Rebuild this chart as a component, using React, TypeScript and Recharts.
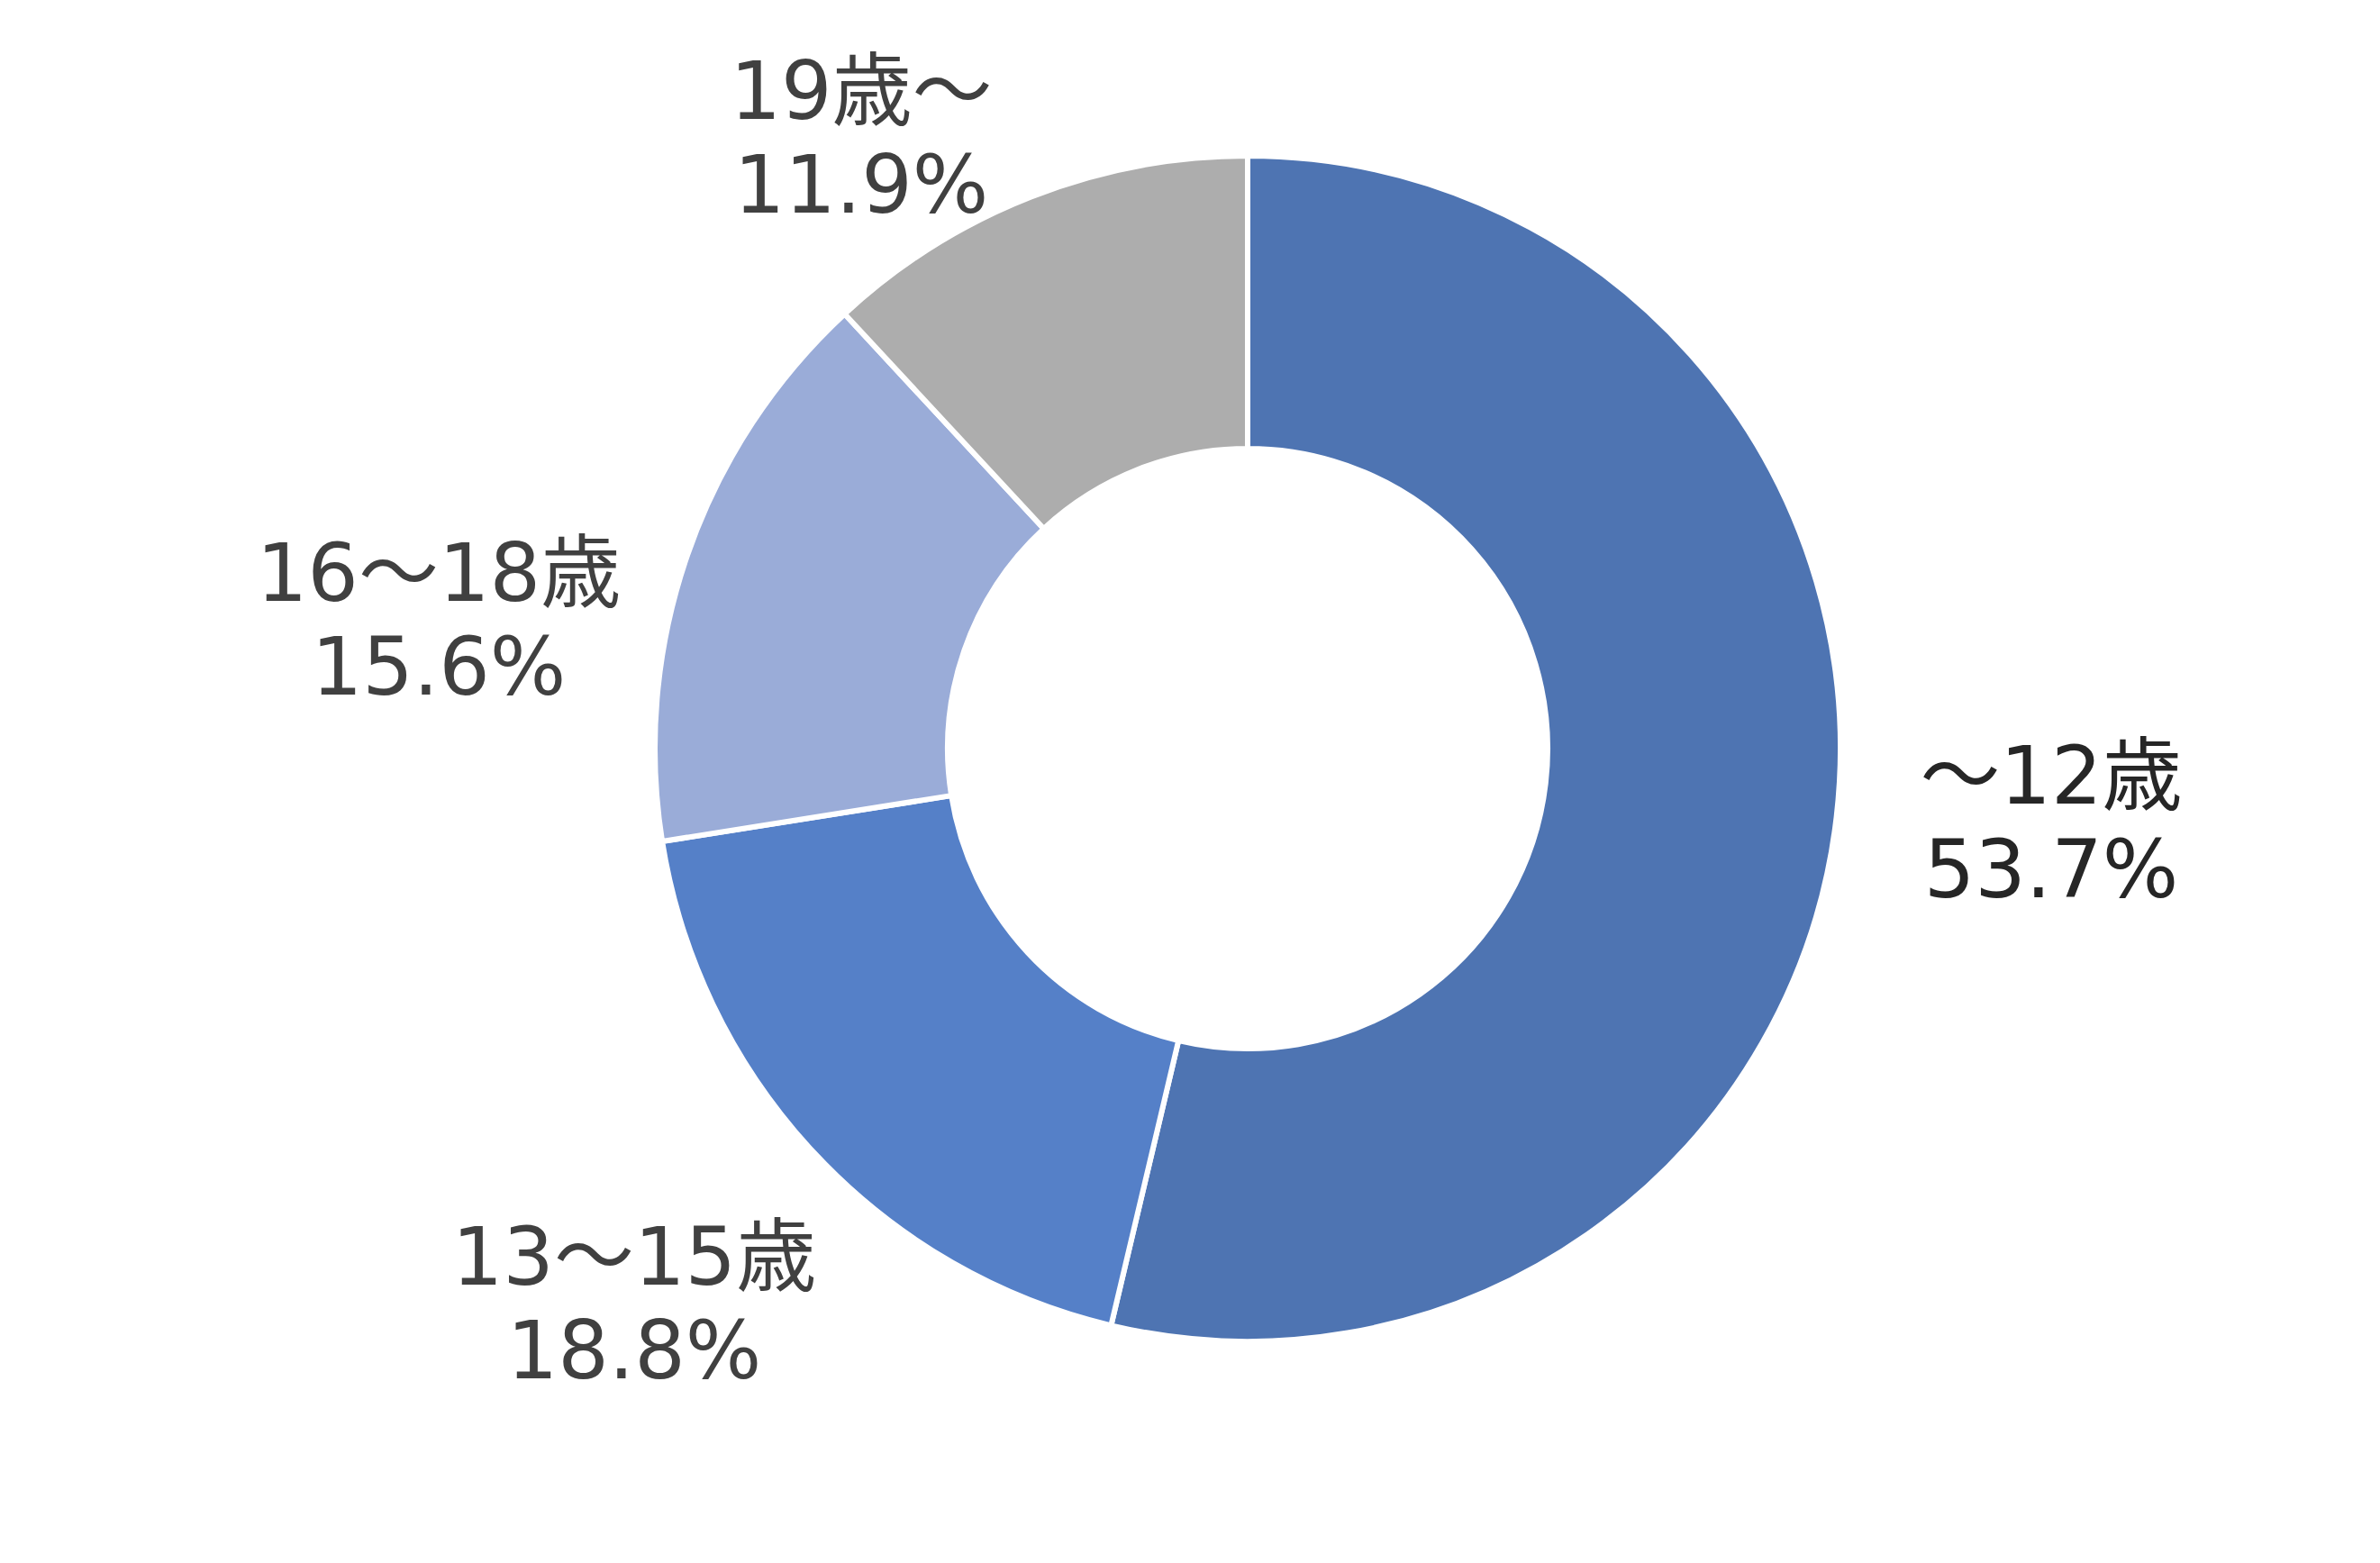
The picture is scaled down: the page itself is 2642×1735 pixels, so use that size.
import { PieChart, Pie, Cell } from 'recharts';

const categories = ['～12歳', '13～15歳', '16～18歳', '19歳～'];
const shares = [53.7, 18.8, 15.6, 11.9];
const colors = ['#4e74b2', '#5580c8', '#9aacd8', '#adadad'];
const labelColors = ['#262626', '#404040', '#404040', '#404040'];

// where Excel put each label (line-1 baseline centre, relative to pie centre)
const labelOffsets: [number, number][] = [
  [892, 61],
  [-681, 595],
  [-898, -164],
  [-429, -699],
];

const data = categories.map((name, i) => ({ name, value: shares[i] }));

const FONT = '"DejaVu Sans", Verdana, "Noto Sans CJK JP", sans-serif';

function renderLabel(props: any) {
  const { cx, cy, index, name, value } = props;
  const [dx, dy] = labelOffsets[index];
  const x = cx + dx;
  const y = cy + dy;
  return (
    <text
      x={x}
      y={y}
      textAnchor="middle"
      fill={labelColors[index]}
      fontSize={89}
      fontFamily={FONT}
    >
      <tspan x={x} y={y}>{name}</tspan>
      <tspan x={x} y={y + 104}>{value.toFixed(1)}%</tspan>
    </text>
  );
}

export default function App() {
  return (
    <div style={{ position: 'absolute', left: 0, top: 0, background: '#fff' }}>
      <PieChart width={2642} height={1735} margin={{ top: 0, right: 0, bottom: 0, left: 0 }}>
        <Pie
          data={data}
          dataKey="value"
          nameKey="name"
          cx={1385}
          cy={831}
          innerRadius={333}
          outerRadius={658}
          startAngle={90}
          endAngle={-270}
          stroke="#ffffff"
          strokeWidth={6}
          label={renderLabel}
          labelLine={false}
          isAnimationActive={false}
        >
          {data.map((entry, i) => (
            <Cell key={entry.name} fill={colors[i]} />
          ))}
        </Pie>
      </PieChart>
    </div>
  );
}
